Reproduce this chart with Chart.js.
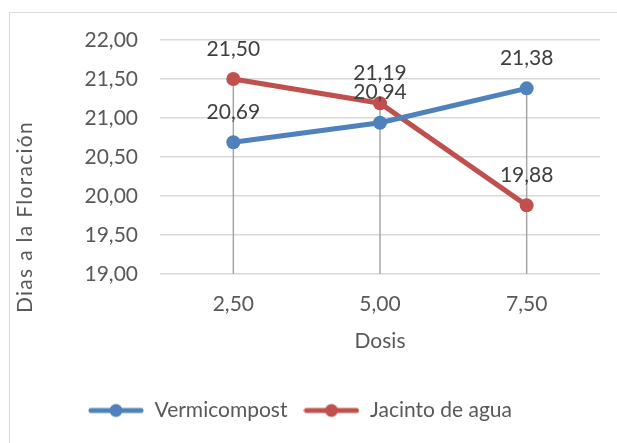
<!DOCTYPE html>
<html>
<head>
<meta charset="utf-8">
<script src="https://cdn.jsdelivr.net/npm/chart.js@4"></script>
<style>
  html, body { margin: 0; padding: 0; background: #fff; }
  .wrap { position: relative; width: 617px; height: 443px; overflow: hidden; }
  .marco { position: absolute; left: 9px; top: 12px; width: 700px; height: 500px; border: 1.5px solid #d9d9d9; }
  canvas { position: absolute; left: 0; top: 0; }
</style>
</head>
<body>
<div class="wrap">
  <div class="marco"></div>
  <canvas id="grafico" width="617" height="443"></canvas>
</div>
<script>
const dosis = ['2,50', '5,00', '7,50'];
const vermicompost = [20.69, 20.94, 21.38];
const jacinto = [21.50, 21.19, 19.88];
const serieNombres = ['Vermicompost', 'Jacinto de agua'];
const colores = ['#4f81bd', '#c0504d'];

const fuente = 'Lato, "Open Sans", sans-serif';
const gris = '#595959';

function coma(v) {
  return Number(v).toFixed(2).replace('.', ',');
}

function marcadorLeyenda(color) {
  const c = document.createElement('canvas');
  c.width = 56;
  c.height = 16;
  const ctx = c.getContext('2d');
  ctx.strokeStyle = color;
  ctx.lineWidth = 5;
  ctx.lineCap = 'round';
  ctx.beginPath();
  ctx.moveTo(3, 8);
  ctx.lineTo(53, 8);
  ctx.stroke();
  ctx.fillStyle = color;
  ctx.beginPath();
  ctx.arc(28, 8, 6.5, 0, Math.PI * 2);
  ctx.fill();
  return c;
}

// lineas de caida desde el punto mas alto hasta el eje
const lineasCaida = {
  id: 'lineasCaida',
  beforeDatasetsDraw(chart) {
    const { ctx, scales } = chart;
    const metas = chart.data.datasets.map((d, i) => chart.getDatasetMeta(i));
    ctx.save();
    ctx.strokeStyle = '#a6a6a6';
    ctx.lineWidth = 1.5;
    dosis.forEach((_, idx) => {
      const ys = metas.map(m => m.data[idx].y);
      const x = metas[0].data[idx].x;
      ctx.beginPath();
      ctx.moveTo(x, Math.min(...ys));
      ctx.lineTo(x, scales.y.bottom);
      ctx.stroke();
    });
    ctx.restore();
  }
};

const etiquetas = {
  id: 'etiquetas',
  afterDatasetsDraw(chart) {
    const { ctx } = chart;
    ctx.save();
    ctx.font = '21px ' + fuente;
    ctx.fillStyle = '#404040';
    ctx.textAlign = 'center';
    ctx.textBaseline = 'middle';
    chart.data.datasets.forEach((ds, i) => {
      chart.getDatasetMeta(i).data.forEach((pt, j) => {
        ctx.fillText(coma(ds.data[j]), pt.x, pt.y - 30);
      });
    });
    ctx.restore();
  }
};

const tituloY = {
  id: 'tituloY',
  afterDraw(chart) {
    const { ctx } = chart;
    ctx.save();
    ctx.translate(25, 217);
    ctx.rotate(-Math.PI / 2);
    ctx.font = '21px ' + fuente;
    ctx.letterSpacing = '1.3px';
    ctx.fillStyle = gris;
    ctx.textAlign = 'center';
    ctx.textBaseline = 'middle';
    ctx.fillText('Dias a la Floración', 0, 0);
    ctx.restore();
  }
};

new Chart(document.getElementById('grafico'), {
  type: 'line',
  data: {
    labels: dosis,
    datasets: [
      {
        label: serieNombres[0],
        data: vermicompost,
        borderColor: colores[0],
        backgroundColor: colores[0],
        borderWidth: 5,
        pointRadius: 7,
        pointHoverRadius: 7,
        pointBorderWidth: 0
      },
      {
        label: serieNombres[1],
        data: jacinto,
        borderColor: colores[1],
        backgroundColor: colores[1],
        borderWidth: 5,
        pointRadius: 7,
        pointHoverRadius: 7,
        pointBorderWidth: 0
      }
    ]
  },
  options: {
    responsive: false,
    animation: false,
    layout: {
      padding: { top: 40, right: 17, bottom: 12, left: 0 }
    },
    scales: {
      x: {
        offset: true,
        grid: { display: false },
        border: { display: false },
        ticks: { color: gris, font: { family: fuente, size: 21 }, padding: 10 },
        title: {
          display: true,
          text: 'Dosis',
          color: gris,
          font: { family: fuente, size: 21 },
          padding: { top: 0, bottom: 30 }
        },
        afterFit(scale) { scale.height = 110; }
      },
      y: {
        min: 19,
        max: 22,
        grid: { color: '#d9d9d9', lineWidth: 1.5, drawTicks: false },
        border: { display: false },
        ticks: {
          stepSize: 0.5,
          color: gris,
          font: { family: fuente, size: 21 },
          padding: 22,
          callback: v => coma(v)
        },
        afterFit(scale) { scale.width = 160; }
      }
    },
    plugins: {
      legend: {
        position: 'bottom',
        labels: {
          color: gris,
          font: { family: fuente, size: 21 },
          usePointStyle: true,
          pointStyleWidth: 56,
          padding: 16,
          generateLabels(chart) {
            return chart.data.datasets.map((ds, i) => ({
              text: ds.label,
              fillStyle: ds.borderColor,
              strokeStyle: ds.borderColor,
              fontColor: gris,
              lineWidth: 0,
              pointStyle: marcadorLeyenda(ds.borderColor),
              datasetIndex: i
            }));
          }
        }
      },
      tooltip: { enabled: false }
    }
  },
  plugins: [lineasCaida, etiquetas, tituloY]
});
</script>
</body>
</html>
